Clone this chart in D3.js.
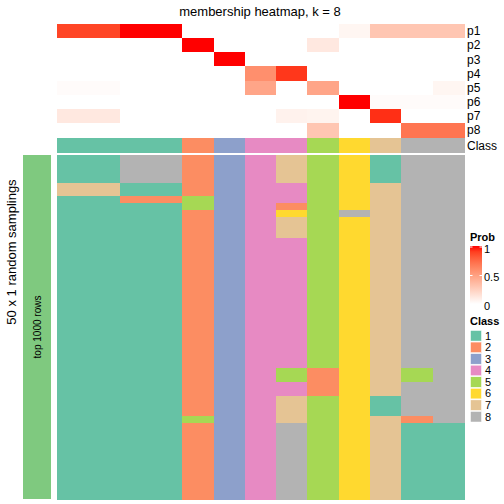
<!DOCTYPE html>
<html>
<head>
<meta charset="utf-8">
<script src="https://cdn.jsdelivr.net/npm/d3@7"></script>
<style>
  html, body { margin: 0; padding: 0; background: #fff; }
  svg { display: block; font-family: "Liberation Sans", Arial, Helvetica, sans-serif; }
  rect.cell { shape-rendering: crispEdges; }
</style>
</head>
<body>
<svg id="chart" width="504" height="504"></svg>
<script>
// ---------------- data ----------------
const columns = d3.range(13).map(i => "c" + (i + 1));
const probRows = ["p1", "p2", "p3", "p4", "p5", "p6", "p7", "p8"];
const p1 = [0.88, 0.88, 1, 1, 0, 0, 0, 0, 0, 0.05, 0.3, 0.3, 0.3];
const p2 = [0, 0, 0, 0, 1, 0, 0, 0, 0.12, 0, 0, 0, 0];
const p3 = [0, 0, 0, 0, 0, 1, 0, 0, 0, 0, 0, 0, 0];
const p4 = [0, 0, 0, 0, 0, 0, 0.58, 0.92, 0, 0, 0, 0, 0];
const p5 = [0.02, 0.02, 0, 0, 0, 0, 0.47, 0, 0.47, 0, 0, 0, 0.05];
const p6 = [0, 0, 0, 0, 0, 0, 0, 0, 0, 1, 0.02, 0.02, 0.02];
const p7 = [0.12, 0.12, 0, 0, 0, 0, 0, 0.07, 0.06, 0, 0.94, 0, 0];
const p8 = [0, 0, 0, 0, 0, 0, 0, 0, 0.3, 0, 0, 0.7, 0.7];
const probValues = [p1, p2, p3, p4, p5, p6, p7, p8];
const classRow = [1, 1, 1, 1, 2, 3, 4, 4, 5, 6, 7, 8, 8];

// 50 random samplings (rows) per column, class ids
const samplings = [
  "1111771111" + "1111111111" + "1111111111" + "1111111111" + "1111111111",
  "1111771111" + "1111111111" + "1111111111" + "1111111111" + "1111111111",
  "8888112111" + "1111111111" + "1111111111" + "1111111111" + "1111111111",
  "8888112111" + "1111111111" + "1111111111" + "1111111111" + "1111111111",
  "2222225522" + "2222222222" + "2222222222" + "2222222252" + "2222222222",
  "3333333333" + "3333333333" + "3333333333" + "3333333333" + "3333333333",
  "4444444444" + "4444444444" + "4444444444" + "4444444444" + "4444444444",
  "7777444267" + "7744444444" + "4444444444" + "4554477778" + "8888888888",
  "5555555555" + "5555555555" + "5555555555" + "5222255555" + "5555555555",
  "6666666686" + "6666666666" + "6666666666" + "6666666666" + "6666666666",
  "1111777777" + "7777777777" + "7777777777" + "7777711177" + "7777777777",
  "8888888888" + "8888888888" + "8888888888" + "8558888821" + "1111111111",
  "8888888888" + "8888888888" + "8888888888" + "8888888881" + "1111111111"
];
const classIds = [1, 2, 3, 4, 5, 6, 7, 8];
const classColors = ["#66C2A5", "#FC8D62", "#8DA0CB", "#E78AC3", "#A6D854", "#FFD92F", "#E5C494", "#B3B3B3"];
const probTicks = [0, 0.5, 1];
const titleText = "membership heatmap, k = 8";
const leftLabel = "50 x 1 random samplings";
const groupLabel = "top 1000 rows";

// ---------------- drawing ----------------
const svg = d3.select("#chart");
const nSamp = samplings[0].length;

const x = d3.scaleBand().domain(columns).range([57, 464]).padding(0);
const yTop = d3.scaleBand().domain(probRows).range([24, 137]).padding(0);
const yBody = d3.scaleBand().domain(d3.range(nSamp)).range([155, 499]).padding(0);
const probColor = d3.scaleLinear().domain([0, 1]).range(["#ffffff", "#ff0000"]).interpolate(d3.interpolateLab);
const classColor = d3.scaleOrdinal().domain(classIds).range(classColors);

// title
svg.append("text").attr("x", 260).attr("y", 16).attr("text-anchor", "middle")
  .attr("font-size", 13).attr("fill", "#000").text(titleText);

// membership probability heatmap
const probCells = [];
probRows.forEach((r, ri) => columns.forEach((c, ci) => probCells.push({ r, c, v: probValues[ri][ci] })));
svg.append("g").selectAll("rect").data(probCells).join("rect").attr("class", "cell")
  .attr("x", d => x(d.c)).attr("y", d => yTop(d.r))
  .attr("width", x.bandwidth() + 0.6).attr("height", yTop.bandwidth() + 0.6)
  .attr("fill", d => probColor(d.v));

svg.append("g").selectAll("text").data(probRows).join("text")
  .attr("x", 467).attr("y", d => yTop(d) + yTop.bandwidth() / 2)
  .attr("dy", "0.35em").attr("font-size", 12).text(d => d);

// class annotation row
svg.append("g").selectAll("rect").data(columns).join("rect").attr("class", "cell")
  .attr("x", d => x(d)).attr("y", 138)
  .attr("width", x.bandwidth() + 0.6).attr("height", 15)
  .attr("fill", (d, i) => classColor(classRow[i]));
svg.append("text").attr("x", 467).attr("y", 145.5).attr("dy", "0.35em")
  .attr("font-size", 12).text("Class");

// samplings body
const bodyCells = [];
columns.forEach((c, ci) => {
  for (let ri = 0; ri < nSamp; ri++) bodyCells.push({ c, r: ri, v: +samplings[ci][ri] });
});
svg.append("g").selectAll("rect").data(bodyCells).join("rect").attr("class", "cell")
  .attr("x", d => x(d.c)).attr("y", d => yBody(d.r))
  .attr("width", x.bandwidth() + 0.6).attr("height", yBody.bandwidth() + 0.6)
  .attr("fill", d => classColor(d.v));

// left group bar
svg.append("rect").attr("class", "cell").attr("x", 23).attr("y", 155).attr("width", 28).attr("height", 344)
  .attr("fill", "#7FC97F");
svg.append("text").attr("transform", "translate(37," + 327 + ") rotate(-90)")
  .attr("text-anchor", "middle").attr("dy", "0.35em").attr("font-size", 10).text(groupLabel);
svg.append("text").attr("transform", "translate(11,252) rotate(-90)")
  .attr("text-anchor", "middle").attr("dy", "0.35em").attr("font-size", 13).text(leftLabel);

// Prob legend
svg.append("text").attr("x", 470).attr("y", 240.5).attr("font-size", 11).attr("font-weight", "bold").text("Prob");
const defs = svg.append("defs");
const grad = defs.append("linearGradient").attr("id", "pg").attr("x1", 0).attr("y1", 1).attr("x2", 0).attr("y2", 0);
d3.range(0, 1.01, 0.1).forEach(t => grad.append("stop").attr("offset", t).attr("stop-color", probColor(t)));
const ly = d3.scaleLinear().domain([0, 1]).range([304, 247]);
svg.append("rect").attr("x", 470).attr("y", 246).attr("width", 12).attr("height", 58).attr("fill", "url(#pg)");
svg.append("g").selectAll("g").data(probTicks.filter(t => t > 0)).join("g").each(function (t) {
  const g = d3.select(this);
  g.append("line").attr("x1", 470).attr("x2", 472.5).attr("y1", ly(t)).attr("y2", ly(t)).attr("stroke", "#fff").attr("stroke-width", 1);
  g.append("line").attr("x1", 479.5).attr("x2", 482).attr("y1", ly(t)).attr("y2", ly(t)).attr("stroke", "#fff").attr("stroke-width", 1);
});
svg.append("g").selectAll("text").data(probTicks).join("text")
  .attr("x", 484).attr("y", d => ly(d) + 2).attr("dy", "0.35em").attr("font-size", 11).text(d => d);

// Class legend
svg.append("text").attr("x", 470).attr("y", 325).attr("font-size", 11).attr("font-weight", "bold").text("Class");
const ls = d3.scaleBand().domain(classIds).range([330, 422.5]).padding(0);
const lg = svg.append("g").selectAll("g").data(classIds).join("g");
lg.append("rect").attr("x", 470.5).attr("y", d => ls(d) + 0.5).attr("width", 11).attr("height", ls.bandwidth() - 1)
  .attr("fill", d => classColor(d)).attr("stroke", "#fff").attr("stroke-width", 0.5);
lg.append("text").attr("x", 485).attr("y", d => ls(d) + ls.bandwidth() / 2).attr("dy", "0.35em")
  .attr("font-size", 11).text(d => d);
</script>
</body>
</html>
